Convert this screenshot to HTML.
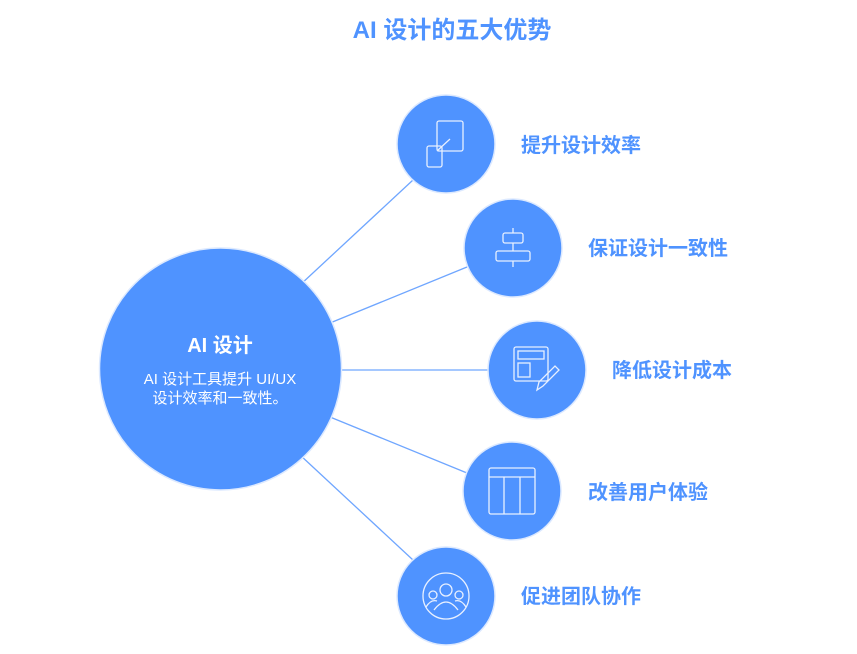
<!DOCTYPE html>
<html><head><meta charset="utf-8"><style>
html,body{margin:0;padding:0;background:#fff;}
svg{display:block;font-family:"Liberation Sans","Noto Sans CJK SC",sans-serif;}
</style></head><body>
<svg width="857" height="654" viewBox="0 0 857 654" xmlns="http://www.w3.org/2000/svg">
<text x="452" y="38" text-anchor="middle" font-size="24" font-weight="bold" fill="#4f93ff">AI 设计的五大优势</text>
<g stroke="#6fa6ff" stroke-width="1.3">
<line x1="300" y1="285" x2="413" y2="180"/>
<line x1="330" y1="323" x2="467" y2="267"/>
<line x1="341" y1="370" x2="488" y2="370"/>
<line x1="330" y1="417" x2="467" y2="473"/>
<line x1="300" y1="455" x2="413" y2="560"/>
</g>
<circle cx="220.5" cy="369" r="121" fill="#4f93ff" stroke="#dce9ff" stroke-width="1.5"/>
<text x="220" y="352" text-anchor="middle" font-size="20" font-weight="bold" fill="#fff">AI 设计</text>
<text x="220" y="384" text-anchor="middle" font-size="15" fill="#fff">AI 设计工具提升 UI/UX</text>
<text x="220" y="403" text-anchor="middle" font-size="15" fill="#fff">设计效率和一致性。</text>
<g fill="#4f93ff" stroke="#dce9ff" stroke-width="1.5">
<circle cx="446" cy="144" r="49"/>
<circle cx="513" cy="248" r="49"/>
<circle cx="537" cy="370" r="49"/>
<circle cx="512" cy="491" r="49"/>
<circle cx="446" cy="596" r="49"/>
</g>
<g fill="none" stroke="#e8f0ff" stroke-width="1.3">
<rect x="437" y="121" width="26" height="30" rx="2"/>
<rect x="427" y="146" width="15" height="21" rx="2"/>
<line x1="437" y1="151" x2="450" y2="139"/>
<rect x="503" y="233" width="20" height="10" rx="2"/>
<rect x="496" y="251" width="34" height="10" rx="2"/>
<line x1="513" y1="228" x2="513" y2="233"/><line x1="513" y1="243" x2="513" y2="251"/><line x1="513" y1="261" x2="513" y2="267"/>
<rect x="514" y="347" width="34" height="34" rx="2"/>
<rect x="518" y="351" width="26" height="8"/>
<rect x="518" y="363" width="12" height="14"/>
<path d="M537 390 L539 382 L555 366 L559 370 L543 386 Z"/>
<rect x="489" y="468" width="46" height="46" rx="2"/>
<line x1="489" y1="477" x2="535" y2="477"/><line x1="504" y1="477" x2="504" y2="514"/><line x1="520" y1="477" x2="520" y2="514"/>
<circle cx="446" cy="596" r="23"/>
<circle cx="446" cy="590" r="6"/><circle cx="433" cy="595" r="4"/><circle cx="459" cy="595" r="4"/>
<path d="M434 610 q12 -16 24 0"/><path d="M426 607 q5 -8 11 -6"/><path d="M466 607 q-5 -8 -11 -6"/>
</g>
<g font-size="20" font-weight="bold" fill="#4f93ff">
<text x="521" y="152">提升设计效率</text>
<text x="588" y="255">保证设计一致性</text>
<text x="612" y="377">降低设计成本</text>
<text x="588" y="499">改善用户体验</text>
<text x="521" y="603">促进团队协作</text>
</g>
</svg>
</body></html>
